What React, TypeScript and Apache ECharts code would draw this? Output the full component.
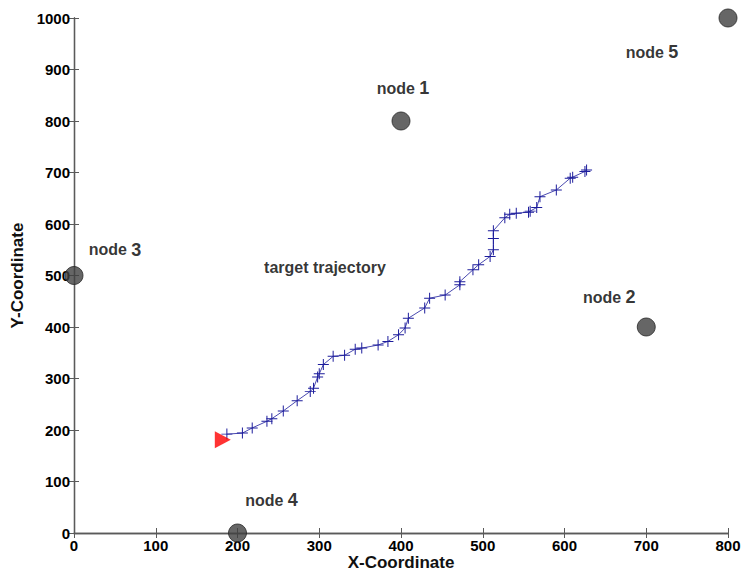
import React, { useEffect, useRef } from "react";
import * as echarts from "echarts";

// Target trajectory samples (X, Y)
const trajX = [187, 206, 218, 236, 242, 256, 273, 289, 293, 298, 300, 305, 317, 331, 344, 352, 372, 384, 397, 405, 409, 429, 435, 454, 472, 472, 488, 495, 509, 513, 513, 513, 527, 533, 541, 556, 558, 566, 570, 590, 607, 610, 625, 627];
const trajY = [192, 194, 204, 217, 222, 237, 257, 275, 281, 303, 309, 327, 343, 345, 357, 359, 365, 372, 385, 398, 417, 437, 456, 462, 482, 488, 511, 521, 537, 550, 572, 587, 612, 619, 621, 623, 625, 632, 653, 666, 689, 691, 702, 705];

// Sensor nodes
const nodeNames = ["1", "2", "3", "4", "5"];
const nodeX = [400, 700, 0, 200, 800];
const nodeY = [800, 400, 500, 0, 1000];

// Start of the target
const startX = [182];
const startY = [181];

// Annotation
const annotText = ["target trajectory"];
const annotX = [307];
const annotY = [515];

const xTicks = [0, 800, 100];
const yTicks = [0, 1000, 100];

const labelOffsets: Record<string, [number, number]> = {
  "1": [2, -33],
  "2": [-37, -30],
  "3": [41, -26],
  "4": [34, -33],
  "5": [-76, 34],
};

const FONT = "Liberation Sans, Arial, Helvetica, sans-serif";
const AXIS_COLOR = "#5a5a5a";

export default function App() {
  const ref = useRef<HTMLDivElement>(null);
  useEffect(() => {
    if (!ref.current) return;
    const chart = echarts.init(ref.current, undefined, { renderer: "svg" });

    const axisCommon = {
      type: "value" as const,
      axisLine: { show: true, lineStyle: { color: AXIS_COLOR, width: 1.3 } },
      axisTick: { show: true, inside: true, length: 5, lineStyle: { color: AXIS_COLOR, width: 1 } },
      splitLine: { show: false },
    };
    const tickLabel = {
      fontFamily: FONT,
      fontSize: 15,
      fontWeight: "bold",
      color: "#000",
      formatter: (v: number) => String(v),
    };

    const option: any = {
      animation: false,
      backgroundColor: "#ffffff",
      grid: { left: 74, right: 15, top: 18, bottom: 40, containLabel: false, outerBoundsMode: "none" },
      xAxis: [
        {
          ...axisCommon,
          position: "bottom",
          min: xTicks[0],
          max: xTicks[1],
          interval: xTicks[2],
          name: "X-Coordinate",
          nameLocation: "middle",
          nameGap: 21,
          nameMoveOverlap: false,
          nameTextStyle: { fontFamily: FONT, fontSize: 17, lineHeight: 17, fontWeight: "bold", color: "#111" },
          axisLabel: { ...tickLabel, margin: 5 },
        },
        {
          ...axisCommon,
          position: "top",
          min: xTicks[0],
          max: xTicks[1],
          interval: xTicks[2],
          axisLabel: { show: false },
        },
      ],
      yAxis: [
        {
          ...axisCommon,
          position: "left",
          min: yTicks[0],
          max: yTicks[1],
          interval: yTicks[2],
          name: "Y-Coordinate",
          nameLocation: "middle",
          nameGap: 48,
          nameMoveOverlap: false,
          nameTextStyle: { fontFamily: FONT, fontSize: 17, fontWeight: "bold", color: "#111" },
          axisLabel: { ...tickLabel, margin: 4 },
        },
        {
          ...axisCommon,
          position: "right",
          min: yTicks[0],
          max: yTicks[1],
          interval: yTicks[2],
          axisLabel: { show: false },
        },
      ],
      series: [
        {
          type: "line",
          xAxisIndex: 0,
          yAxisIndex: 0,
          data: trajX.map((x, i) => [x, trajY[i]]),
          lineStyle: { color: "#4a4ab0", width: 1 },
          symbol: "path://M0,4.55h10v0.9h-10zM4.55,0h0.9v10h-0.9z",
          symbolSize: 11,
          itemStyle: { color: "#1c1c9c" },
          z: 3,
        },
        {
          type: "scatter",
          xAxisIndex: 0,
          yAxisIndex: 0,
          clip: false,
          data: startX.map((x, i) => [x, startY[i]]),
          symbol: "triangle",
          symbolSize: [17, 16],
          symbolRotate: -90,
          itemStyle: { color: "#ff0000" },
          z: 4,
        },
        {
          type: "scatter",
          xAxisIndex: 0,
          yAxisIndex: 0,
          clip: false,
          symbol: "circle",
          symbolSize: 18,
          itemStyle: { color: "#404040", borderColor: "#262626", borderWidth: 1 },
          data: nodeNames.map((n, i) => ({
            value: [nodeX[i], nodeY[i]],
            name: n,
            label: {
              show: true,
              position: "inside",
              offset: labelOffsets[n],
              formatter: "{a|node }{b|" + n + "}",
              rich: {
                a: { fontFamily: FONT, fontSize: 16, fontWeight: "bold", color: "#000" },
                b: { fontFamily: FONT, fontSize: 18, fontWeight: "bold", color: "#000" },
              },
            },
          })),
          z: 5,
        },
        {
          type: "scatter",
          xAxisIndex: 0,
          yAxisIndex: 0,
          symbolSize: 0,
          data: annotX.map((x, i) => ({ value: [x, annotY[i]], name: annotText[i] })),
          label: {
            show: true,
            position: "inside",
            formatter: (p: any) => p.name,
            fontFamily: FONT,
            fontSize: 16,
            fontWeight: "bold",
            color: "#000",
          },
          silent: true,
          z: 5,
        },
      ],
    };

    chart.setOption(option);
    return () => chart.dispose();
  }, []);

  return (
    <div
      ref={ref}
      style={{ position: "fixed", left: 0, top: 0, width: 743, height: 573, background: "#fff" }}
    />
  );
}
